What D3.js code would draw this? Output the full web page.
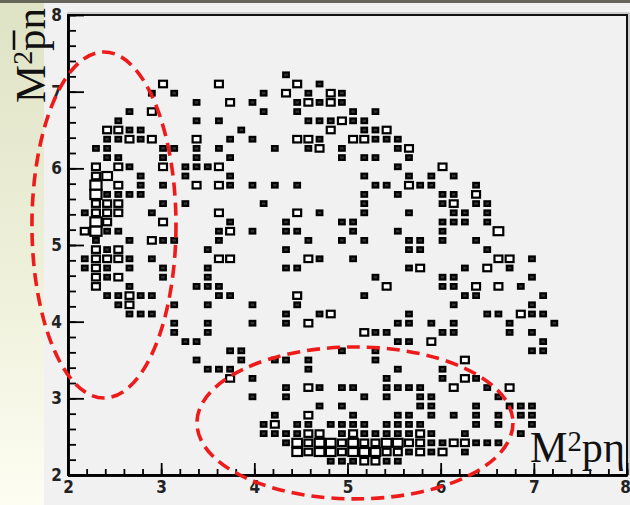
<!DOCTYPE html>
<html>
<head>
<meta charset="utf-8">
<script src="https://cdn.jsdelivr.net/npm/d3@7"></script>
<style>
  body { margin: 0; background: #f1f1f1; }
  svg { display: block; }
</style>
</head>
<body>
<svg width="630" height="505"></svg>
<script>
// TH2: 50 x 50 bins over [2, 8] on both axes
const nBins = 50;
const axisRange = [2, 8];
const majorTicks = [2, 3, 4, 5, 6, 7, 8];

// each row: [y bin (from the bottom), x bins]; a bin listed n times holds n entries
const rowsTop = [
  [43, [19]],
  [42, [8, 8, 13, 13, 20, 20, 22]],
  [41, [7, 9, 17, 19, 19, 21, 23, 23, 24]],
  [40, [11, 14, 14, 16, 20, 21, 21, 22, 23, 23, 24]],
  [39, [5, 7, 7, 17, 20, 25, 27]],
  [38, [4, 11, 13, 21, 22, 23, 24, 24, 25, 26]],
  [37, [3, 3, 4, 4, 5, 6, 15, 23, 23, 26, 27, 28, 28]],
  [36, [3, 4, 5, 5, 6, 7, 7, 11, 11, 14, 16, 20, 20, 21, 21, 22, 25, 25, 26, 26, 27, 28, 29]],
  [35, [2, 3, 8, 9, 11, 13, 18, 21, 22, 22, 24, 29, 30, 30]],
  [34, [3, 4, 8, 11, 14, 24, 26, 27, 30]],
  [33, [2, 2, 4, 4, 5, 8, 8, 10, 11, 12, 13, 13, 29, 33, 33]],
  [32, [2, 2, 3, 3, 3, 6, 10, 14, 26, 30, 32, 34]],
  [31, [2, 2, 2, 2, 4, 4, 6, 8, 11, 11, 13, 13, 14, 16, 18, 20, 27, 28, 30, 30, 31, 32, 36]],
  [30, [2, 2, 2, 2, 3, 4, 5, 6, 26, 29, 33, 34, 36, 36]],
  [29, [2, 2, 3, 3, 4, 4, 8, 10, 17, 26, 33, 34, 34, 36, 37]]
];

const rowsMid = [
  [28, [1, 2, 2, 3, 3, 4, 4, 7, 13, 13, 20, 20, 22, 26, 30, 34, 35, 37]],
  [27, [2, 2, 2, 2, 3, 3, 8, 8, 14, 19, 24, 25, 33, 34, 35, 37]],
  [26, [1, 1, 2, 2, 2, 2, 3, 4, 13, 14, 14, 16, 19, 20, 25, 29, 33, 38, 38, 38]],
  [25, [2, 5, 7, 7, 8, 9, 13, 21, 24, 26, 30, 31, 33, 36]],
  [24, [2, 2, 3, 4, 4, 12, 19, 30, 31, 37]],
  [23, [1, 2, 2, 3, 3, 4, 4, 5, 7, 13, 13, 14, 14, 21, 21, 22, 25, 38, 38, 39, 39, 41]],
  [22, [1, 2, 2, 3, 5, 8, 12, 19, 20, 30, 31, 31, 35, 37, 37, 39]],
  [21, [2, 2, 3, 4, 4, 8, 12, 27, 33, 34, 41]],
  [20, [2, 2, 5, 11, 12, 13, 28, 28, 33, 34, 36, 36, 38, 38, 40]],
  [19, [3, 4, 5, 5, 6, 7, 13, 14, 20, 20, 26, 35, 36, 42]],
  [18, [4, 5, 5, 9, 12, 16, 20, 34, 41]],
  [17, [5, 6, 7, 19, 22, 23, 23, 30, 37, 38, 40, 40, 41, 42]],
  [16, [9, 12, 16, 19, 21, 21, 29, 30, 32, 34, 39, 43]],
  [15, [9, 12, 26, 26, 27, 28, 33, 34, 39, 41]],
  [14, [10, 11, 29, 30, 32, 32, 42]]
];

const rowsLow = [
  [13, [14, 15, 24, 27, 41, 42]],
  [12, [11, 15, 18, 19, 21, 27, 35, 35]],
  [11, [12, 13, 14, 21, 29, 33]],
  [10, [14, 14, 16, 28, 33, 35, 35, 36]],
  [9, [19, 21, 21, 22, 24, 25, 28, 29, 30, 31, 34, 34, 37, 39, 39]],
  [8, [16, 19, 26, 28, 31, 32, 38]],
  [7, [22, 24, 31, 32, 36, 39, 40, 41]],
  [6, [18, 21, 21, 25, 29, 30, 32, 34, 36, 38, 40, 41]],
  [5, [17, 18, 18, 20, 21, 23, 24, 25, 26, 28, 29, 30, 31, 36, 38, 41]],
  [4, [17, 18, 19, 20, 21, 21, 22, 22, 24, 25, 25, 26, 27, 28, 29, 30, 31, 31, 32, 35, 40]],
  [3, [19, 20, 20, 20, 21, 21, 22, 22, 22, 23, 23, 23, 24, 24, 25, 25, 25, 26, 26, 27, 27,
       28, 28, 28, 29, 29, 29, 30, 30, 31, 31, 32, 33, 34, 34, 35, 35, 36, 37, 38]],
  [2, [20, 20, 20, 21, 21, 22, 22, 22, 23, 23, 23, 24, 24, 25, 25, 25, 26, 26, 26, 27, 27, 27,
       28, 28, 29, 29, 30, 31, 31, 32, 33, 33, 35]],
  [1, [23, 24, 25, 26, 26, 27, 27, 28, 29]]
];

// red dashed ellipses, in axis units: [centre x, centre y, radius x, radius y]
const ellipses = [
  [2.386, 5.261, 0.773, 2.257],
  [5.080, 2.679, 1.696, 0.991]
];

const width = 630;
const height = 505;
const svg = d3.select("svg");

const x = d3.scaleLinear().domain(axisRange).range([68, 627]);
const y = d3.scaleLinear().domain(axisRange).range([475, 15]);
const binW = (axisRange[1] - axisRange[0]) / nBins;

// background pieces (slide behind the picture)
const defs = svg.append("defs");
const grad = defs.append("linearGradient")
  .attr("id", "strip").attr("x1", 0).attr("y1", 0).attr("x2", 0).attr("y2", 1);
grad.append("stop").attr("offset", "0%").attr("stop-color", "#dfe3c5");
grad.append("stop").attr("offset", "55%").attr("stop-color", "#eef0da");
grad.append("stop").attr("offset", "100%").attr("stop-color", "#fdfdf2");

svg.append("rect").attr("width", width).attr("height", height).attr("fill", "#f1f1f1");
svg.append("rect").attr("width", 44).attr("height", height).attr("fill", "url(#strip)");
svg.append("rect").attr("width", width).attr("height", 3).attr("fill", "#66675a");

// collect bins
let cells = [];
[rowsTop, rowsMid, rowsLow].forEach((rows) => {
  rows.forEach(([yb, xs]) => {
    d3.rollups(xs, (v) => v.length, (d) => d).forEach(([xb, n]) => {
      cells.push({ xb: xb, yb: yb, n: n });
    });
  });
});
const nMax = d3.max(cells, (d) => d.n);

// boxes, area ~ content
svg.append("g")
  .selectAll("rect")
  .data(cells)
  .enter()
  .append("rect")
  .attr("class", "box")
  .each(function (d) {
    const f = Math.sqrt(d.n / nMax);
    const x0 = x(axisRange[0] + d.xb * binW);
    const x1 = x(axisRange[0] + (d.xb + 1) * binW);
    const y0 = y(axisRange[0] + (d.yb + 1) * binW);
    const y1 = y(axisRange[0] + d.yb * binW);
    const w = (x1 - x0) * f;
    const h = (y1 - y0) * f;
    d3.select(this)
      .attr("x", (x0 + x1) / 2 - w / 2)
      .attr("y", (y0 + y1) / 2 - h / 2)
      .attr("width", w)
      .attr("height", h);
  })
  .attr("fill", (d) => (d.n === 1 ? "#333" : "#fff"))
  .attr("stroke", "#000")
  .attr("stroke-width", 2.2);

// frame
svg.append("rect")
  .attr("x", x(2)).attr("y", y(8) - 2)
  .attr("width", x(8) - x(2) + 2).attr("height", y(2) - y(8) + 2)
  .attr("fill", "none").attr("stroke", "#aaa").attr("stroke-width", 1);
svg.append("rect")
  .attr("x", x(2)).attr("y", y(8))
  .attr("width", x(8) - x(2)).attr("height", y(2) - y(8))
  .attr("fill", "none").attr("stroke", "#111").attr("stroke-width", 2);

const tickFont = "'Liberation Sans Narrow', 'DejaVu Sans Condensed', 'Liberation Sans', sans-serif";

// x axis (ticks inside)
svg.append("g")
  .attr("transform", "translate(0," + y(2) + ")")
  .call(d3.axisBottom(x).tickValues(x.ticks(30)).tickSize(-6).tickSizeOuter(0).tickFormat(""));
svg.append("g")
  .attr("class", "major xmajor")
  .attr("transform", "translate(0," + y(2) + ")")
  .call(d3.axisBottom(x).tickValues(majorTicks).tickSize(-12).tickSizeOuter(0).tickPadding(6)
    .tickFormat(d3.format("d")));

// y axis
svg.append("g")
  .attr("transform", "translate(" + x(2) + ",0)")
  .call(d3.axisLeft(y).tickValues(y.ticks(30)).tickSize(-8).tickSizeOuter(0).tickFormat(""));
svg.append("g")
  .attr("class", "major")
  .attr("transform", "translate(" + x(2) + ",0)")
  .call(d3.axisLeft(y).tickValues(majorTicks).tickSize(-16).tickSizeOuter(0).tickPadding(6)
    .tickFormat(d3.format("d")));

svg.selectAll(".domain").attr("stroke", "#000").attr("stroke-width", 2.5);
svg.selectAll(".tick line").attr("stroke", "#000").attr("stroke-width", 1.8);
svg.selectAll(".major text")
  .attr("fill", "#222")
  .style("font-family", tickFont)
  .style("font-weight", "bold")
  .style("font-size", "17px");
// last x label sits against the right edge
svg.selectAll(".xmajor .tick text").filter((d) => d === 8).attr("dx", -2);

// red dashed ellipses
svg.append("g")
  .selectAll("ellipse")
  .data(ellipses)
  .enter()
  .append("ellipse")
  .attr("cx", (d) => x(d[0]))
  .attr("cy", (d) => y(d[1]))
  .attr("rx", (d) => x(axisRange[0] + d[2]) - x(axisRange[0]))
  .attr("ry", (d) => y(axisRange[0]) - y(axisRange[0] + d[3]))
  .attr("fill", "none")
  .attr("stroke", "#ee1b1b")
  .attr("stroke-width", 3.6)
  .attr("stroke-dasharray", "13,7");

// axis titles
const serif = "'Liberation Serif', 'DejaVu Serif', serif";

const xt = svg.append("text")
  .attr("x", 530).attr("y", 462)
  .attr("textLength", 95).attr("lengthAdjust", "spacingAndGlyphs")
  .style("font-family", serif).style("font-size", "44px").attr("fill", "#111");
xt.append("tspan").text("M");
xt.append("tspan").attr("dy", -11).style("font-size", "30px").text("2");
xt.append("tspan").attr("dy", 11).text("pη");

const ytg = svg.append("g").attr("transform", "translate(45,103) rotate(-90)");
const yt = ytg.append("text")
  .attr("textLength", 95).attr("lengthAdjust", "spacingAndGlyphs")
  .style("font-family", serif).style("font-size", "43px").attr("fill", "#111");
yt.append("tspan").text("M");
yt.append("tspan").attr("dy", -13).style("font-size", "28px").text("2");
yt.append("tspan").attr("dy", 13).text("pn");

// bar over the p (antiproton)
const pBox = yt.node().getExtentOfChar(2);
ytg.append("line")
  .attr("x1", pBox.x + 1).attr("x2", pBox.x + pBox.width - 1)
  .attr("y1", -31).attr("y2", -31)
  .attr("stroke", "#111").attr("stroke-width", 2.6);
</script>
</body>
</html>
